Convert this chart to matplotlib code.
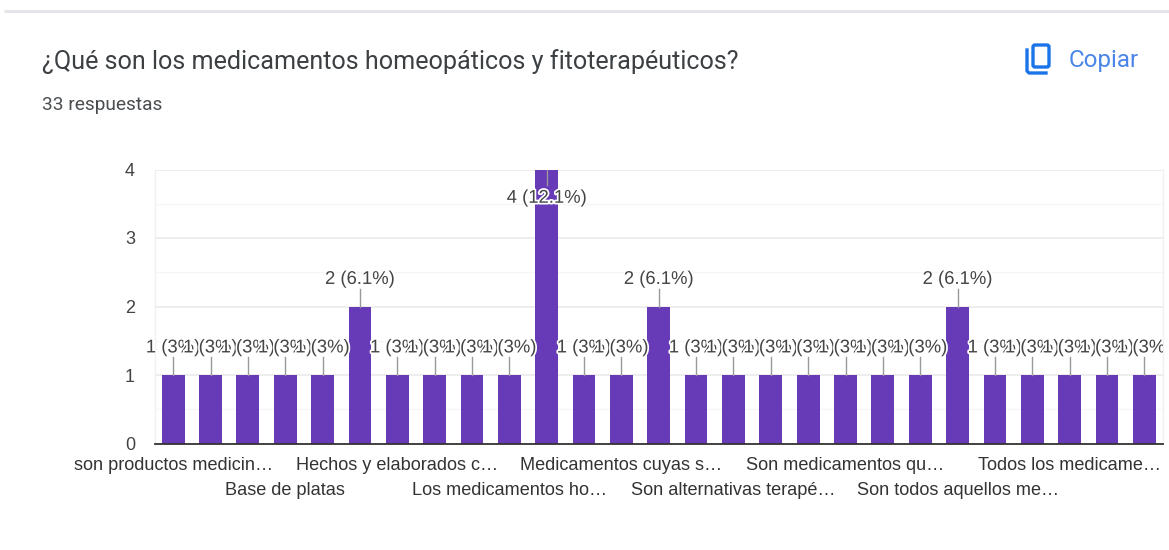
import matplotlib
matplotlib.use("Agg")
import matplotlib.pyplot as plt
import matplotlib.patheffects as pe
from matplotlib.patches import FancyBboxPatch
from matplotlib.transforms import Bbox

title = "¿Qué son los medicamentos homeopáticos y fitoterapéuticos?"
subtitle = "33 respuestas"
copy_label = "Copiar"
values = [1, 1, 1, 1, 1, 2, 1, 1, 1, 1, 4, 1, 1, 2, 1, 1, 1, 1, 1, 1, 1, 2, 1, 1, 1, 1, 1]
percents = ["3%"] * 5 + ["6.1%"] + ["3%"] * 4 + ["12.1%"] + ["3%"] * 2 + ["6.1%"] + ["3%"] * 7 + ["6.1%"] + ["3%"] * 5
tick_positions = [0, 3, 6, 9, 12, 15, 18, 21, 24]
tick_labels = ["son productos medicin…", "Base de platas", "Hechos y elaborados c…",
               "Los medicamentos ho…", "Medicamentos cuyas s…", "Son alternativas terapé…",
               "Son medicamentos qu…", "Son todos aquellos me…", "Todos los medicame…"]
y_ticks = [0, 1, 2, 3, 4]
y_minor = [0.5, 1.5, 2.5, 3.5]

W, H = 1169, 550
BAR = "#673ab7"
plt.rcParams["font.family"] = ["Liberation Sans", "DejaVu Sans"]
fig = plt.figure(figsize=(W / 100, H / 100), dpi=100, facecolor="white")

# page furniture in pixel coordinates
bg = fig.add_axes([0, 0, 1, 1])
bg.set_xlim(0, W); bg.set_ylim(H, 0); bg.axis("off")
bg.plot([4, W], [11, 11], color="#e4e4ea", lw=2.2, solid_capstyle="butt")
bg.text(42, 62, title, fontsize=18.05, family="Roboto", color="#3c4043", va="center", ha="left")
bg.text(42, 105, subtitle, fontsize=13.8, family="Roboto", color="#4a4d50", va="center", ha="left")
bg.text(1069, 60, copy_label, fontsize=17.4, family="Roboto", color="#4a86e8", va="center", ha="left")
bg.add_patch(FancyBboxPatch((1033, 45), 16, 22, boxstyle="round,pad=0,rounding_size=2",
                            fc="none", ec="#1a73e8", lw=2.4))
bg.plot([1027, 1027, 1029, 1046], [50, 71, 73, 73], color="#1a73e8", lw=2.4)

# chart
x0, x1, y_top, y_bot = 154.5, 1163, 169.5, 443.5
ax = fig.add_axes([x0 / W, 1 - y_bot / H, (x1 - x0) / W, (y_bot - y_top) / H])
ax.patch.set_alpha(0)
positions = list(range(len(values)))
ax.bar(positions, values, width=0.61, color=BAR, zorder=3)
ax.set_xlim(-0.5, len(values) - 0.5)
ax.set_ylim(0, 4)
for s in ("top", "right", "left"):
    ax.spines[s].set_visible(False)
ax.spines["bottom"].set_color("#333333")
ax.spines["bottom"].set_linewidth(1.3)
ax.spines["bottom"].set_zorder(5)

ax.set_yticks(y_ticks)
ax.set_yticks(y_minor, minor=True)
ax.grid(True, which="major", axis="y", color="#ececec", lw=1.3, zorder=0)
ax.grid(True, which="minor", axis="y", color="#f5f5f5", lw=1.0, zorder=0)
ax.tick_params(axis="y", which="both", length=0, pad=14, labelsize=13, labelcolor="#444444")
ax.plot([-0.5, -0.5], [0, 4], color="#f0f0f0", lw=1, zorder=1, clip_on=False)
ax.plot([len(values) - 0.5] * 2, [0, 4], color="#f0f0f0", lw=1, zorder=1, clip_on=False)

ax.set_xticks(tick_positions)
ax.set_xticklabels(tick_labels, fontsize=13.05, color="#333333")
ax.tick_params(axis="x", length=0)
for i, t in enumerate(ax.xaxis.get_major_ticks()):
    t.set_pad(10 if i % 2 == 0 else 28)

# value labels with leader lines, drawn in order so later ones overlap earlier ones
halo = [pe.withStroke(linewidth=2.5, foreground="white")]
clip = Bbox([[0, 0], [1163, H]])
fig.canvas.draw()
for i, (v, p) in enumerate(zip(values, percents)):
    if v == 4:
        ax.plot([i, i], [4, 3.78], color="#999999", lw=1, zorder=4)
        ty = 3.58
    else:
        ax.plot([i, i], [v, v + 0.26], color="#999999", lw=1, zorder=4)
        ty = v + 0.395
    txt = ax.text(i, ty, f"{v} ({p})", ha="center", va="center", fontsize=13.3,
                  color="#444444", zorder=6 + i * 0.01, path_effects=halo, clip_on=True)
    txt.set_clip_box(clip)

fig.savefig("out.png", dpi=100, facecolor="white")
